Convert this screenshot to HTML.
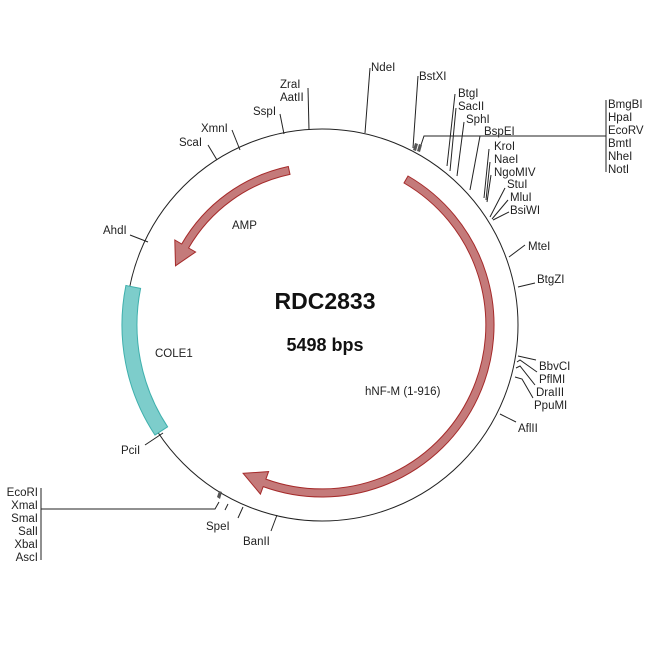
<!DOCTYPE html>
<html><head><style>body{margin:0;background:#fff}svg{display:block}text{font-family:"Liberation Sans",Arial,sans-serif;font-size:11.5px;fill:#222}</style></head><body>
<svg width="650" height="650" viewBox="0 0 650 650">
<circle cx="322" cy="325" r="196" fill="none" stroke="#222" stroke-width="1"/>
<path d="M125.9,285.5 A200 200 0 0 0 155,435.1 L167.6,426.8 A185 185 0 0 1 140.6,288.4 Z" fill="#7dcdcb" stroke="#3fb0ad" stroke-width="1"/>
<path d="M408,176 A172,172 0 0 1 263.2,486.6 L260.4,494.1 L243.1,473.3 L268.6,471.6 L265.9,479.1 A164,164 0 0 0 404,183 Z" fill="#c47a7a" stroke="#a52a2a" stroke-width="1"/>
<path d="M288.3,166.5 A162 162 0 0 0 181.7,244 L174.8,240 L175.5,265.8 L195.6,252 L188.6,248 A154 154 0 0 1 290,174.4 Z" fill="#c47a7a" stroke="#a52a2a" stroke-width="1"/>
<g stroke="#222" stroke-width="1" fill="none">
<path d="M370,68 L365,133"/>
<path d="M418,76 L413,148"/>
<path d="M455,94 L447,166"/>
<path d="M456,108 L450,171"/>
<path d="M464,122 L457,176"/>
<path d="M480,136 L470,190"/>
<path d="M420,148 L424,136 L606,136"/>
<path d="M606,100 L606,172"/>
<path d="M489,149 L484,198"/>
<path d="M490,162 L486,200"/>
<path d="M491,175 L487,202"/>
<path d="M505,188 L490,217"/>
<path d="M508,200 L492,219"/>
<path d="M509,212 L493,220"/>
<path d="M525,245 L509,257"/>
<path d="M535,283 L518,287"/>
<path d="M536,360 L518,356"/>
<path d="M537,372 L520,360 L517,362"/>
<path d="M535,385 L520,366 L516,368"/>
<path d="M533,398 L522,379 L515,377"/>
<path d="M516,422 L500,414"/>
<path d="M308,88 L309,130"/>
<path d="M280,114 L284,134"/>
<path d="M232,130 L240,150"/>
<path d="M208,145 L217,160"/>
<path d="M130,235 L148,242"/>
<path d="M145,445 L163,433"/>
<path d="M238,518 L243,507"/>
<path d="M271,531 L277,515"/>
<path d="M41,488 L41,560"/>
<path d="M41,509 L215,509 L219,502"/>
<path d="M228,504 L225,510"/>
</g>
<g fill="#555">
<polygon points="413,150 415,143 418,144 416,151"/><polygon points="417,151 419,144 422,145 420,152"/>
<polygon points="217,497 219,491 222,492 220,499"/>
</g>
<g>
<text x="371" y="71">NdeI</text>
<text x="419" y="80">BstXI</text>
<text x="458" y="97">BtgI</text>
<text x="458" y="110">SacII</text>
<text x="466" y="123">SphI</text>
<text x="484" y="135">BspEI</text>
<text x="608" y="108">BmgBI</text>
<text x="608" y="121">HpaI</text>
<text x="608" y="134">EcoRV</text>
<text x="608" y="147">BmtI</text>
<text x="608" y="160">NheI</text>
<text x="608" y="173">NotI</text>
<text x="494" y="150">KroI</text>
<text x="494" y="163">NaeI</text>
<text x="494" y="176">NgoMIV</text>
<text x="507" y="188">StuI</text>
<text x="510" y="201">MluI</text>
<text x="510" y="214">BsiWI</text>
<text x="528" y="250">MteI</text>
<text x="537" y="283">BtgZI</text>
<text x="539" y="370">BbvCI</text>
<text x="539" y="383">PflMI</text>
<text x="536" y="396">DraIII</text>
<text x="534" y="409">PpuMI</text>
<text x="518" y="432">AflII</text>
<text x="280" y="88">ZraI</text>
<text x="280" y="101">AatII</text>
<text x="253" y="115">SspI</text>
<text x="201" y="132">XmnI</text>
<text x="179" y="146">ScaI</text>
<text x="103" y="234">AhdI</text>
<text x="121" y="454">PciI</text>
<text x="206" y="530">SpeI</text>
<text x="243" y="545">BanII</text>
<g text-anchor="end">
<text x="38" y="496">EcoRI</text>
<text x="38" y="509">XmaI</text>
<text x="38" y="522">SmaI</text>
<text x="38" y="535">SalI</text>
<text x="38" y="548">XbaI</text>
<text x="38" y="561">AscI</text>
</g>
<text x="155" y="357">COLE1</text>
<text x="232" y="229">AMP</text>
<text x="365" y="395">hNF-M (1-916)</text>
<text x="325" y="309" text-anchor="middle" style="font-size:23px;font-weight:bold;fill:#111">RDC2833</text>
<text x="325" y="351" text-anchor="middle" style="font-size:18px;font-weight:bold;fill:#111">5498 bps</text>
</g>
</svg>
</body></html>
